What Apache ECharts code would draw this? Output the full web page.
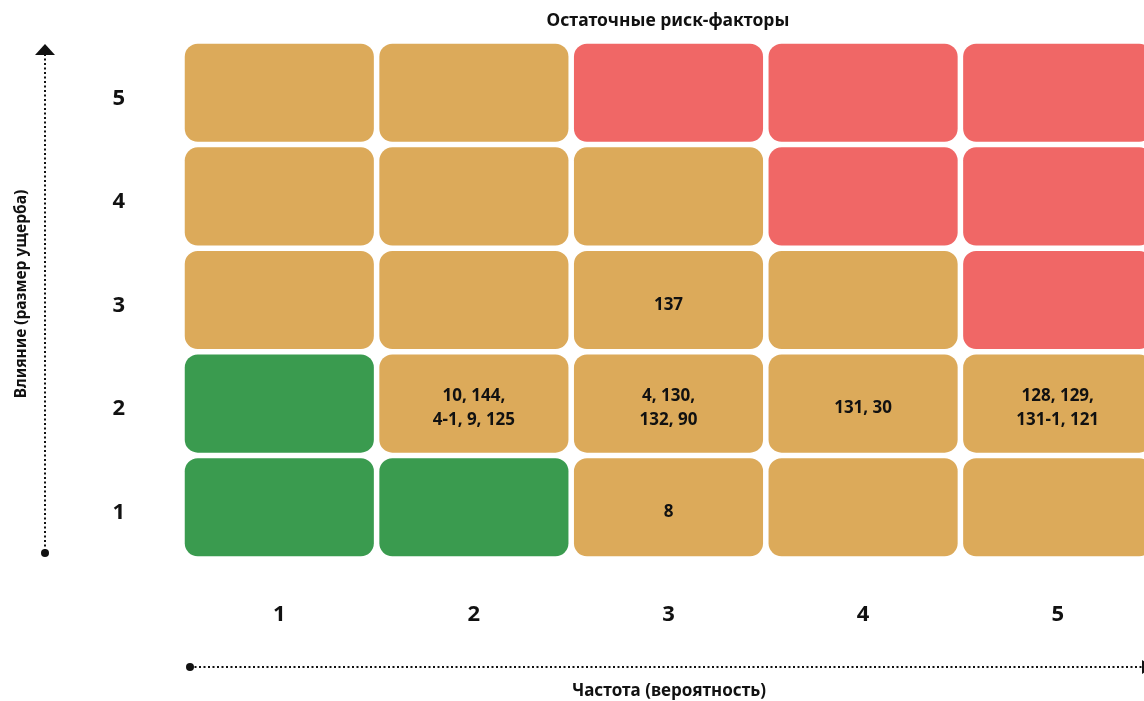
<!DOCTYPE html>
<html>
<head>
<meta charset="utf-8">
<script src="https://cdn.jsdelivr.net/npm/echarts@6/dist/echarts.min.js"></script>
<style>
html,body{margin:0;padding:0;background:#fff;overflow:hidden;}
#chart{width:1170px;height:701px;}
</style>
</head>
<body>
<div id="chart"></div>
<script>
// Data
const freqCategories = ['1', '2', '3', '4', '5'];      // x: Частота (вероятность)
const impactCategories = ['1', '2', '3', '4', '5'];    // y: Влияние (размер ущерба)
// risk level per row (impact 1..5), per column (frequency 1..5): G=green, O=orange, R=red
const levelRow1 = ['G', 'G', 'O', 'O', 'O'];
const levelRow2 = ['G', 'O', 'O', 'O', 'O'];
const levelRow3 = ['O', 'O', 'O', 'O', 'R'];
const levelRow4 = ['O', 'O', 'O', 'R', 'R'];
const levelRow5 = ['O', 'O', 'R', 'R', 'R'];
// factor labels per row
const labelRow1 = ['', '', '8', '', ''];
const labelRow2 = ['', '10, 144,\n4-1, 9, 125', '4, 130,\n132, 90', '131, 30', '128, 129,\n131-1, 121'];
const labelRow3 = ['', '', '137', '', ''];
const labelRow4 = ['', '', '', '', ''];
const labelRow5 = ['', '', '', '', ''];

const chartTitle = 'Остаточные риск-факторы';
const xTitle = 'Частота (вероятность)';
const yTitle = 'Влияние (размер ущерба)';

const levelColors = { G: '#3a9b4f', O: '#dcaa5a', R: '#f06766' };
const FONT = '"Noto Sans", sans-serif';

const levelRows = [levelRow1, levelRow2, levelRow3, levelRow4, levelRow5];
const labelRows = [labelRow1, labelRow2, labelRow3, labelRow4, labelRow5];
const cells = [];
levelRows.forEach((row, yi) => {
  row.forEach((lv, xi) => {
    cells.push([xi, yi, lv, labelRows[yi][xi]]);
  });
});

const chart = echarts.init(document.getElementById('chart'));
const GAP = 5.5;

chart.setOption({
  animation: false,
  backgroundColor: '#fff',
  grid: { left: 182, top: 41, width: 973, height: 518 },
  xAxis: {
    type: 'category', data: freqCategories,
    axisLine: { show: false }, axisTick: { show: false }, splitLine: { show: false },
    axisLabel: { margin: 45, fontFamily: FONT, fontWeight: 'bold', fontSize: 22, color: '#111' }
  },
  yAxis: {
    type: 'category', data: impactCategories,
    axisLine: { show: false }, axisTick: { show: false }, splitLine: { show: false },
    axisLabel: { margin: 57, verticalAlign: 'top', lineHeight: 11,
                 fontFamily: FONT, fontWeight: 'bold', fontSize: 22, color: '#111' }
  },
  series: [{
    type: 'custom',
    data: cells,
    renderItem: function (params, api) {
      const c = api.coord([api.value(0), api.value(1)]);
      const s = api.size([1, 1]);
      const w = s[0] - GAP, h = s[1] - GAP;
      const item = cells[params.dataIndex];
      return {
        type: 'rect',
        shape: { x: c[0] - w / 2, y: c[1] - h / 2, width: w, height: h, r: 13 },
        style: { fill: levelColors[item[2]] },
        textContent: {
          style: {
            text: item[3], fill: '#111', fontFamily: FONT, fontWeight: 'bold',
            fontSize: 17, lineHeight: 24, align: 'center', verticalAlign: 'middle'
          }
        },
        textConfig: { position: 'inside', offset: [0, 5] }
      };
    }
  }],
  graphic: [
    // chart title
    { type: 'text', x: 668, y: 21.5,
      style: { text: chartTitle, fontFamily: FONT, fontWeight: 'bold', fontSize: 17.5, fill: '#111',
               align: 'center', verticalAlign: 'middle' } },
    // vertical axis arrow
    { type: 'line', shape: { x1: 45, y1: 54, x2: 45, y2: 553 },
      style: { stroke: '#111', lineWidth: 2, lineDash: [2, 2.5] } },
    { type: 'polygon', shape: { points: [[45, 44], [55, 55], [35, 55]] }, style: { fill: '#111' } },
    { type: 'circle', shape: { cx: 45, cy: 553, r: 4 }, style: { fill: '#111' } },
    // horizontal axis arrow
    { type: 'line', shape: { x1: 190, y1: 667, x2: 1142, y2: 667 },
      style: { stroke: '#111', lineWidth: 2, lineDash: [2, 2.5] } },
    { type: 'polygon', shape: { points: [[1142, 660], [1153, 667], [1142, 674]] }, style: { fill: '#111' } },
    { type: 'circle', shape: { cx: 190, cy: 667, r: 4 }, style: { fill: '#111' } },
    // axis titles
    { type: 'text', x: 669, y: 691,
      style: { text: xTitle, fontFamily: FONT, fontWeight: 'bold', fontSize: 17, fill: '#111',
               align: 'center', verticalAlign: 'middle' } },
    { type: 'text', x: 22, y: 294, rotation: Math.PI / 2,
      style: { text: yTitle, fontFamily: FONT, fontWeight: 'bold', fontSize: 15.5, fill: '#111',
               align: 'center', verticalAlign: 'middle' } }
  ]
});
</script>
</body>
</html>
